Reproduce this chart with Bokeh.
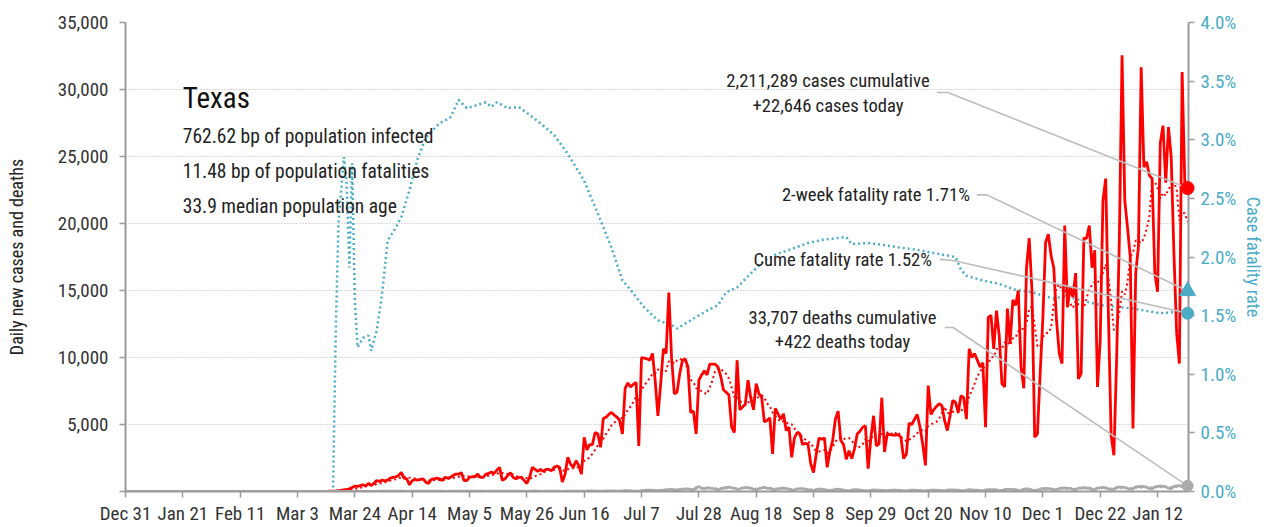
import pandas as pd
from bokeh.plotting import figure
from bokeh.models import (Range1d, LinearAxis, FixedTicker, NumeralTickFormatter,
                          PrintfTickFormatter, Label)
from bokeh.embed import file_html
from bokeh.resources import INLINE

FONT = "Liberation Sans Narrow, Roboto Condensed, Arial Narrow, sans-serif"

# ---------------- data ----------------
LEAD_START = "2019-12-31"      # first date on the axis
SERIES_START = "2020-03-01"    # first date of the typed daily series

CASES_MAR = [0, 0, 0, 1, 2, 3, 5, 8, 3, 5, 8, 10, 12, 15, 25, 30, 40, 60, 90, 120,
             150, 200, 300, 400, 380, 450, 500, 420, 600, 450, 600]
CASES_APR = [820, 750, 850, 800, 850, 1000, 1050, 1100, 1200, 1420, 1000, 950, 500, 800, 900,
             850, 900, 950, 700, 600, 900, 950, 1000, 950, 820, 1050, 1000, 1050, 1200, 1300]
CASES_MAY = [1300, 1400, 820, 820, 1050, 1100, 1100, 1300, 1050, 1050, 1300, 1350, 1450, 1350,
             1600, 1800, 830, 950, 1200, 1400, 1050, 950, 1050, 1050, 830, 600, 1050, 1800,
             1650, 1500, 1650]
CASES_JUN = [1500, 1650, 1650, 1550, 1800, 1900, 1800, 700, 1300, 2550, 2050, 1800, 2300, 1950,
             1300, 4050, 3100, 3500, 3500, 4400, 4300, 3300, 5450, 5550, 5750, 5900, 5700, 5550,
             5300, 4300]
CASES_JUL = [7700, 8100, 7800, 8000, 8150, 3400, 10000, 9950, 9900, 9800, 10300, 8300, 5650,
             8000, 10650, 10300, 14850, 10000, 7300, 7400, 8800, 9800, 9900, 9300, 5900, 6000,
             4300, 8300, 8700, 9000, 8700]
CASES_AUG = [9500, 9500, 9500, 9300, 8600, 7600, 7400, 7200, 4800, 4400, 9800, 6100, 6300, 6500,
             8300, 7000, 6100, 8050, 7300, 7050, 5200, 5300, 5500, 2800, 6200, 5800, 5400, 5800,
             4550, 4800, 2550]
CASES_SEP = [4000, 4400, 4300, 3500, 3600, 3500, 2050, 1420, 2800, 4000, 3900, 4000, 1800, 3000,
             3800, 5400, 6000, 3800, 3500, 2400, 3050, 2450, 3200, 4300, 4500, 4800, 4900, 1700,
             4000, 5650]
CASES_OCT = [3400, 3550, 7000, 2950, 4300, 4250, 4200, 4200, 4250, 4050, 2450, 2800, 5100, 5000,
             5400, 5750, 4800, 3500, 1950, 7900, 5750, 6100, 6350, 6550, 6400, 5300, 4550, 5650,
             6800, 6650, 5900]
CASES_NOV = [7150, 7000, 5400, 10650, 10000, 10300, 9800, 9300, 9600, 4800, 13000, 13150, 10650,
             13500, 11650, 8050, 7800, 13650, 11050, 14300, 13900, 15000, 9300, 7700, 16700,
             18900, 15000, 4050, 4300, 8800]
CASES_DEC = [13000, 18600, 19200, 17600, 16700, 12750, 10300, 9550, 19850, 13750, 15250, 14500,
             16300, 8400, 8800, 18900, 18900, 19850, 16700, 18000, 7800, 11300, 21700, 23350,
             13250, 4180, 2700, 9800, 18750, 32550, 21700]
CASES_JAN = [19700, 17500, 4700, 16300, 18300, 31650, 24200, 24600, 23600, 23350, 16300, 14900,
             26000, 27300, 23050, 27200, 24950, 17750, 11800, 9550, 31300, 22850, 22646]

DEATHS_MAR = [0, 0, 0, 0, 0, 0, 0, 0, 0, 0, 0, 0, 0, 0, 0, 1, 0, 1, 2, 1, 1, 2, 3, 4, 4, 6, 5, 7,
              7, 10, 12]
DEATHS_APR = [15, 20, 25, 20, 18, 22, 28, 30, 25, 22, 20, 15, 18, 25, 30, 28, 35, 25, 20, 18, 22,
              28, 30, 32, 27, 20, 15, 24, 30, 35]
DEATHS_MAY = [33, 30, 20, 18, 25, 30, 35, 30, 28, 22, 15, 25, 30, 33, 35, 28, 20, 18, 22, 30, 30,
              28, 25, 20, 18, 15, 25, 35, 38, 30, 22]
DEATHS_JUN = [15, 25, 30, 35, 30, 28, 20, 15, 28, 32, 35, 30, 25, 20, 18, 30, 35, 38, 40, 30, 25,
              20, 30, 40, 45, 50, 45, 30, 25, 45]
DEATHS_JUL = [55, 60, 50, 35, 20, 30, 60, 90, 100, 110, 95, 80, 60, 90, 110, 130, 140, 170, 130,
              110, 150, 180, 200, 190, 160, 110, 300, 360, 250, 220, 280]
DEATHS_AUG = [250, 230, 180, 120, 220, 250, 300, 320, 280, 240, 150, 200, 260, 300, 280, 250, 180,
              130, 210, 270, 300, 260, 230, 180, 110, 200, 240, 260, 220, 190, 120]
DEATHS_SEP = [110, 200, 220, 210, 180, 140, 80, 70, 150, 180, 170, 140, 110, 60, 100, 160, 170,
              140, 110, 70, 50, 100, 140, 130, 110, 90, 50, 40, 90, 120]
DEATHS_OCT = [110, 100, 90, 60, 40, 90, 100, 110, 90, 80, 50, 40, 80, 100, 100, 90, 80, 50, 40, 90,
              110, 110, 100, 90, 55, 45, 100, 120, 120, 110, 100]
DEATHS_NOV = [60, 50, 110, 130, 120, 110, 100, 60, 50, 120, 140, 140, 130, 120, 70, 60, 150, 160,
              160, 150, 140, 80, 70, 170, 190, 180, 110, 90, 80, 190]
DEATHS_DEC = [210, 230, 220, 200, 140, 120, 230, 250, 260, 240, 230, 150, 130, 250, 270, 280, 260,
              250, 160, 140, 260, 290, 300, 280, 200, 150, 170, 300, 330, 320, 300]
DEATHS_JAN = [230, 180, 190, 340, 370, 380, 360, 330, 220, 200, 350, 380, 400, 390, 360, 250, 220,
              380, 410, 430, 400, 350, 422]

# cumulative case fatality rate (%), read at the dates below
CFR_DATES = ["2020-03-01", "2020-03-16", "2020-03-17", "2020-03-18", "2020-03-20", "2020-03-21",
             "2020-03-22", "2020-03-23", "2020-03-24", "2020-03-25", "2020-03-27", "2020-03-29",
             "2020-03-30", "2020-04-01", "2020-04-03", "2020-04-05", "2020-04-08", "2020-04-10",
             "2020-04-13", "2020-04-16", "2020-04-19", "2020-04-24", "2020-04-28", "2020-05-01",
             "2020-05-04", "2020-05-07", "2020-05-11", "2020-05-13", "2020-05-15", "2020-05-19",
             "2020-05-23", "2020-05-26", "2020-05-31", "2020-06-05", "2020-06-10", "2020-06-16",
             "2020-06-21", "2020-06-26", "2020-06-30", "2020-07-03", "2020-07-08", "2020-07-13",
             "2020-07-18", "2020-07-20", "2020-07-25", "2020-07-30", "2020-08-04", "2020-08-07",
             "2020-08-11", "2020-08-16", "2020-08-21", "2020-08-26", "2020-08-30", "2020-09-06",
             "2020-09-12", "2020-09-20", "2020-09-22", "2020-09-28", "2020-10-04", "2020-10-16",
             "2020-10-30", "2020-11-01", "2020-11-03", "2020-11-09", "2020-11-15", "2020-11-21",
             "2020-11-27", "2020-12-04", "2020-12-10", "2020-12-22", "2021-01-03", "2021-01-13",
             "2021-01-19", "2021-01-23"]
CFR_VALUES = [0.0, 0.0, 1.35, 2.29, 2.85, 2.63, 1.91, 2.80, 1.63, 1.23, 1.31, 1.33, 1.20, 1.37,
              1.69, 2.14, 2.25, 2.34, 2.57, 2.84, 3.02, 3.14, 3.19, 3.34, 3.27, 3.29, 3.32, 3.28,
              3.32, 3.27, 3.28, 3.23, 3.14, 3.04, 2.88, 2.65, 2.37, 2.08, 1.80, 1.72, 1.57, 1.46,
              1.42, 1.39, 1.46, 1.53, 1.59, 1.70, 1.74, 1.86, 1.97, 2.03, 2.06, 2.12, 2.15, 2.17,
              2.11, 2.12, 2.10, 2.06, 2.00, 1.89, 1.84, 1.80, 1.77, 1.72, 1.70, 1.65, 1.66, 1.59,
              1.56, 1.52, 1.53, 1.52]
TWO_WEEK_CFR = 1.71

TICK_DATES = ["2019-12-31", "2020-01-21", "2020-02-11", "2020-03-03", "2020-03-24", "2020-04-14",
              "2020-05-05", "2020-05-26", "2020-06-16", "2020-07-07", "2020-07-28", "2020-08-18",
              "2020-09-08", "2020-09-29", "2020-10-20", "2020-11-10", "2020-12-01", "2020-12-22",
              "2021-01-12"]
TICK_LABELS = ["Dec 31", "Jan 21", "Feb 11", "Mar 3", "Mar 24", "Apr 14", "May 5", "May 26",
               "Jun 16", "Jul 7", "Jul 28", "Aug 18", "Sep 8", "Sep 29", "Oct 20", "Nov 10",
               "Dec 1", "Dec 22", "Jan 12"]
LEFT_TICKS = [0, 5000, 10000, 15000, 20000, 25000, 30000, 35000]
RIGHT_TICKS = [0.0, 0.5, 1.0, 1.5, 2.0, 2.5, 3.0, 3.5, 4.0]

STATE = "Texas"
FACTS = ["762.62 bp of population infected", "11.48 bp of population fatalities",
         "33.9 median population age"]
CASES_CUM_TXT = ["2,211,289 cases cumulative", "+22,646 cases today"]
DEATHS_CUM_TXT = ["33,707 deaths cumulative", "+422 deaths today"]
TWO_WEEK_TXT = "2-week fatality rate 1.71%"
CUME_TXT = "Cume fatality rate 1.52%"

# ---------------- assemble ----------------
cases = (CASES_MAR + CASES_APR + CASES_MAY + CASES_JUN + CASES_JUL + CASES_AUG + CASES_SEP +
         CASES_OCT + CASES_NOV + CASES_DEC + CASES_JAN)
deaths = (DEATHS_MAR + DEATHS_APR + DEATHS_MAY + DEATHS_JUN + DEATHS_JUL + DEATHS_AUG +
          DEATHS_SEP + DEATHS_OCT + DEATHS_NOV + DEATHS_DEC + DEATHS_JAN)
assert len(cases) == len(deaths)
ser_dates = pd.date_range(SERIES_START, periods=len(cases), freq="D")
lead = pd.date_range(LEAD_START, ser_dates[0] - pd.Timedelta(days=1), freq="D")
dates = lead.append(ser_dates)
cases_all = pd.Series([0] * len(lead) + cases, index=dates, dtype=float)
deaths_all = pd.Series([0] * len(lead) + deaths, index=dates, dtype=float)
cases_avg = cases_all.rolling(7, min_periods=1).mean()
deaths_avg = deaths_all.rolling(7, min_periods=1).mean()
cfr_dates = pd.to_datetime(CFR_DATES)

last_date = dates[-1]
last_case = cases_all.iloc[-1]
last_death = deaths_all.iloc[-1]
last_cfr = CFR_VALUES[-1]


def ms(ts):
    return pd.Timestamp(ts).value / 1e6


def day(n):  # date offset from axis start, used for annotation placement
    return ms(pd.Timestamp(LEAD_START) + pd.Timedelta(days=n))


RED = "#ff0000"
CYAN = "#4bacc6"
GRAY = "#aaaaaa"
AXIS = "#9a9a9a"
TXT = "#222222"

p = figure(width=1268, height=527, x_axis_type="datetime",
           x_range=Range1d(ms(LEAD_START), ms(last_date + pd.Timedelta(hours=8))),
           y_range=Range1d(0, 35000), output_backend="svg", toolbar_location=None,
           min_border_left=125, min_border_right=80, min_border_top=22, min_border_bottom=36)
p.extra_y_ranges = {"cfr": Range1d(0, 4.0)}
p.outline_line_color = None
p.background_fill_color = "white"
p.xgrid.visible = False
p.ygrid.grid_line_color = "#b5b5b5"
p.ygrid.grid_line_dash = "1 2"
p.ygrid.grid_line_width = 1

xa = p.xaxis[0]
xa.ticker = FixedTicker(ticks=[ms(d) for d in TICK_DATES])
xa.major_label_overrides = {ms(d): l for d, l in zip(TICK_DATES, TICK_LABELS)}
ya = p.yaxis[0]
ya.ticker = FixedTicker(ticks=LEFT_TICKS)
ya.formatter = NumeralTickFormatter(format="0,0")
ya.major_label_overrides = {0: ""}
ya.axis_label = "Daily new cases and deaths"

ra = LinearAxis(y_range_name="cfr", ticker=FixedTicker(ticks=RIGHT_TICKS),
                formatter=PrintfTickFormatter(format="%.1f%%"), axis_label="Case fatality rate")
p.add_layout(ra, "right")

for ax in (xa, ya, ra):
    ax.axis_line_color = AXIS
    ax.axis_line_width = 2
    ax.major_tick_line_color = AXIS
    ax.major_tick_line_width = 1.5
    ax.major_tick_in = 0
    ax.major_tick_out = 6
    ax.minor_tick_line_color = None
    ax.major_label_text_font = FONT
    ax.axis_label_text_font = FONT
    ax.axis_label_text_font_style = "normal"
xa.major_label_text_font_size = "19px"
xa.major_label_text_color = "#333333"
xa.major_label_standoff = 4
ya.major_label_text_font_size = "19px"
ya.major_label_text_color = "#333333"
ya.major_label_standoff = 11
ya.axis_label_text_font_size = "18px"
ya.axis_label_text_color = TXT
ya.axis_label_standoff = 28
ra.major_label_text_font_size = "19px"
ra.major_label_text_color = CYAN
ra.major_label_standoff = 6
ra.axis_label_text_font_size = "18px"
ra.axis_label_text_color = CYAN
ra.axis_label_standoff = 4

# ---------------- series ----------------
p.line(cfr_dates, CFR_VALUES, y_range_name="cfr", line_color=CYAN, line_width=2.5,
       line_dash="2 3")
p.line(dates, cases_all.values, line_color=RED, line_width=2.8)
p.line(dates, cases_avg.values, line_color=RED, line_width=2, line_dash="2 3")
p.line(dates, deaths_all.values, line_color=GRAY, line_width=2.8)
p.line(dates, deaths_avg.values, line_color=GRAY, line_width=2, line_dash="2 3")

# ---------------- leader lines ----------------
LEAD_C = "#bdbdbd"
p.line([day(297.2), day(301.2), ms(last_date)], [29780, 29780, last_case],
       line_color=LEAD_C, line_width=1.6)
p.line([day(311.9), day(315.5), ms(last_date)], [2.53, 2.53, TWO_WEEK_CFR], y_range_name="cfr",
       line_color=LEAD_C, line_width=1.6)
p.line([day(298.3), day(303.1), ms(last_date)], [1.98, 1.97, last_cfr], y_range_name="cfr",
       line_color=LEAD_C, line_width=1.6)
p.line([day(300.1), day(303.1), ms(last_date)], [12240, 12240, last_death],
       line_color=LEAD_C, line_width=1.6)

# ---------------- end markers (overlay level so they are not cut at the frame edge) --------
p.scatter([last_date], [last_case], marker="circle", size=13, fill_color=RED, line_color=RED,
          level="overlay")
p.scatter([last_date], [last_death], marker="circle", size=11, fill_color=GRAY, line_color=GRAY,
          level="overlay")
p.scatter([last_date], [TWO_WEEK_CFR], y_range_name="cfr", marker="triangle", size=16,
          fill_color=CYAN, line_color=CYAN, level="overlay")
p.scatter([last_date], [last_cfr], y_range_name="cfr", marker="circle", size=12,
          fill_color=CYAN, line_color=CYAN, level="overlay")


def label(x, y, text, size, align="left", color=TXT, rng="default"):
    p.add_layout(Label(x=x, y=y, text=text, text_font=FONT, text_font_size=size,
                       text_color=color, text_align=align, text_baseline="middle",
                       y_range_name=rng))


# title block
label(ms("2020-01-21"), 29400, STATE, "29px", color="#111111")
for txt, yv in zip(FACTS, [26500, 23850, 21250]):
    label(ms("2020-01-21"), yv, txt, "19.5px")

# annotations
label(day(257.3), 30600, CASES_CUM_TXT[0], "18.6px", align="center")
label(day(257.3), 28800, CASES_CUM_TXT[1], "18.6px", align="center")
label(day(309.3), 2.526, TWO_WEEK_TXT, "18.6px", align="right", rng="cfr")
label(day(295.4), 1.971, CUME_TXT, "18.6px", align="right", rng="cfr")
label(day(262.6), 12985, DEATHS_CUM_TXT[0], "18.6px", align="center")
label(day(262.6), 11120, DEATHS_CUM_TXT[1], "18.6px", align="center")

open("out.html", "w").write(file_html(p, INLINE))
